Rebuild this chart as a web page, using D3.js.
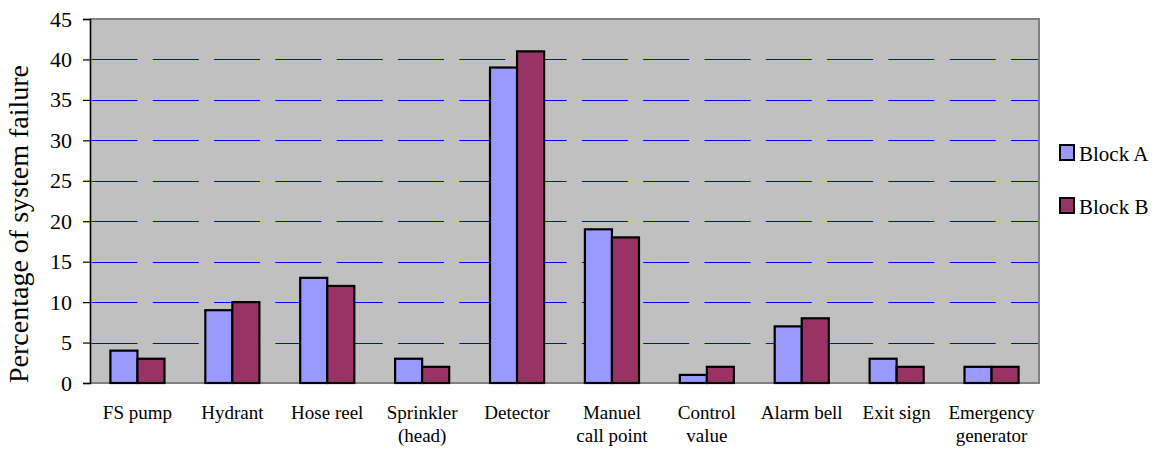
<!DOCTYPE html>
<html><head><meta charset="utf-8">
<script src="https://cdn.jsdelivr.net/npm/d3@7"></script>
<style>body{margin:0;background:#fff}svg{display:block}</style>
</head><body>
<script>
const categories = [["FS pump"],["Hydrant"],["Hose reel"],["Sprinkler","(head)"],["Detector"],["Manuel","call point"],["Control","value"],["Alarm bell"],["Exit sign"],["Emergency","generator"]];
const seriesNames = ["Block A","Block B"];
const blockA = [4,9,13,3,39,19,1,7,3,2];
const blockB = [3,10,12,2,41,18,2,8,2,2];
const yTicks = [0,5,10,15,20,25,30,35,40,45];
const colors = ["#9999FF","#993366"];

const FONT = "'Liberation Serif','Times New Roman','DejaVu Serif',serif";
const W=1157,H=450, L=90,R=1039,T=19,B=383;
const svg=d3.select("body").append("svg").attr("width",W).attr("height",H).attr("font-family",FONT);
const y=d3.scaleLinear().domain([0,45]).range([B,T]);
const x0=d3.scaleBand().domain(d3.range(categories.length)).range([L,R]).paddingInner(0.43).paddingOuter(0.215);
const x1=d3.scaleBand().domain(seriesNames).range([0,x0.bandwidth()]);

svg.append("rect").attr("x",L).attr("y",T).attr("width",R-L).attr("height",B-T).attr("fill","#C0C0C0");
svg.append("g").selectAll("line").data(yTicks.filter(d=>d>0&&d<45)).join("line")
 .attr("x1",L+1.5).attr("x2",R).attr("y1",d=>Math.round(y(d))+0.5).attr("y2",d=>Math.round(y(d))+0.5)
 .attr("stroke","#0000FF").attr("stroke-width",1).attr("stroke-dasharray","46,15.3");
svg.append("line").attr("x1",L).attr("x2",R+1).attr("y1",T).attr("y2",T).attr("stroke","#808080").attr("stroke-width",2);
svg.append("line").attr("x1",R).attr("x2",R).attr("y1",T).attr("y2",B).attr("stroke","#808080").attr("stroke-width",2);
svg.append("line").attr("x1",L).attr("x2",R+1).attr("y1",B).attr("y2",B).attr("stroke","#808080").attr("stroke-width",2);

const data=categories.map((c,i)=>({i,vals:[blockA[i],blockB[i]]}));
const g=svg.append("g").selectAll("g").data(data).join("g").attr("transform",d=>`translate(${x0(d.i)},0)`);
g.selectAll("rect").data(d=>d.vals.map((v,k)=>({v,k}))).join("rect")
 .attr("x",d=>x1(seriesNames[d.k])).attr("width",x1.bandwidth())
 .attr("y",d=>y(d.v)).attr("height",d=>B-y(d.v))
 .attr("fill",d=>colors[d.k]).attr("stroke","#000").attr("stroke-width",2.2);

const ya=svg.append("g").attr("transform",`translate(${L},0)`)
 .call(d3.axisLeft(y).tickValues(yTicks).tickSize(7).tickPadding(11));
ya.attr("font-family",FONT).attr("font-size",22);
ya.select(".domain").attr("stroke","#000").attr("stroke-width",1.6);
ya.selectAll(".tick line").attr("stroke","#000").attr("stroke-width",1.2);
ya.selectAll("text").attr("fill","#000");

const xl=svg.append("g").attr("font-size",19).selectAll("text").data(categories).join("text")
 .attr("x",(d,i)=>x0(i)+x0.bandwidth()/2).attr("y",419).attr("text-anchor","middle");
xl.selectAll("tspan").data(d=>d).join("tspan").attr("x",function(){return this.parentNode.getAttribute("x")})
 .attr("dy",(d,i)=>i?23:0).text(d=>d);

svg.append("text").attr("transform",`translate(28,224) rotate(-90)`).attr("text-anchor","middle")
 .attr("font-size",28).text("Percentage of system failure");

const lg=svg.append("g").selectAll("g").data(seriesNames).join("g").attr("transform",(d,i)=>`translate(1060,${145+i*53})`);
lg.append("rect").attr("width",14).attr("height",15).attr("fill",(d,i)=>colors[i]).attr("stroke","#000").attr("stroke-width",2);
lg.append("text").attr("x",19).attr("y",15.5).attr("font-size",21).text(d=>d);
</script>
</body></html>
